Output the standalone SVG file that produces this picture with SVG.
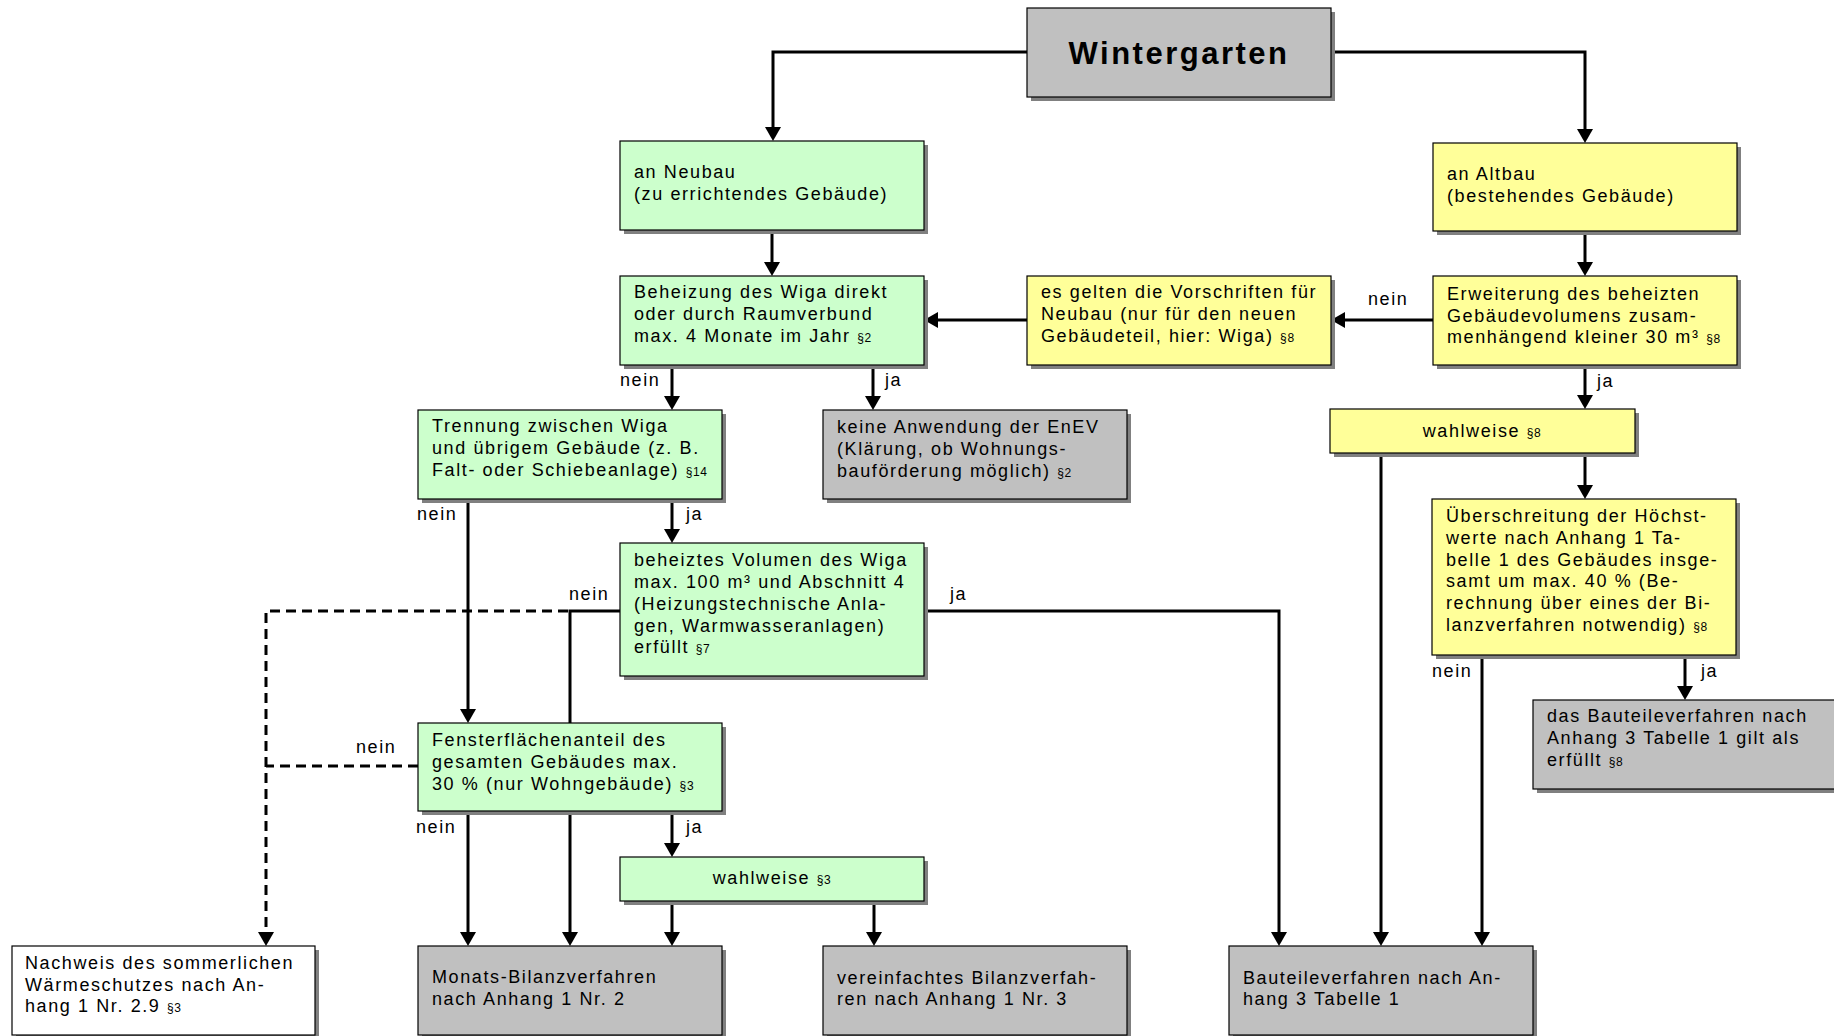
<svg xmlns="http://www.w3.org/2000/svg" width="1834" height="1036" viewBox="0 0 1834 1036">
<style>
  .sh { fill: #808080; }
  .b { stroke: #000; stroke-width: 1.2; }
  .g { fill: #CCFFCC; }
  .y { fill: #FFFF99; }
  .gr { fill: #C0C0C0; }
  .w { fill: #FFFFFF; }
  text { font-family: "Liberation Sans", Arial, sans-serif; font-size: 18px; letter-spacing: 1.6px; fill: #000; }
  .title { font-size: 31px; font-weight: bold; letter-spacing: 2.5px; }
  .p { font-size: 12px; letter-spacing: 0.6px; }
  .c { fill: none; stroke: #000; stroke-width: 3; }
  .d { stroke-dasharray: 10 6; }
</style>
<defs>
  <marker id="ah" markerUnits="userSpaceOnUse" markerWidth="14" markerHeight="16" viewBox="0 0 14 16" refX="4" refY="8" orient="auto">
    <path d="M0,0 L14,8 L0,16 z" fill="#000"/>
  </marker>
</defs>
<rect width="1834" height="1036" fill="#fff"/>

<g id="connectors">
  <path class="c" d="M1027,52 H773 V131" marker-end="url(#ah)"/>
  <path class="c" d="M1331,52 H1585 V133" marker-end="url(#ah)"/>
  <path class="c" d="M772,230 V266" marker-end="url(#ah)"/>
  <path class="c" d="M1585,231 V266" marker-end="url(#ah)"/>
  <path class="c" d="M1433,320 H1341" marker-end="url(#ah)"/>
  <path class="c" d="M1027,320 H934" marker-end="url(#ah)"/>
  <path class="c" d="M672,365 V400" marker-end="url(#ah)"/>
  <path class="c" d="M873,365 V400" marker-end="url(#ah)"/>
  <path class="c" d="M1585,365 V399" marker-end="url(#ah)"/>
  <path class="c" d="M672,499 V533" marker-end="url(#ah)"/>
  <path class="c" d="M468,499 V713" marker-end="url(#ah)"/>
  <path class="c" d="M620,611 H570 V936" marker-end="url(#ah)"/>
  <path class="c d" d="M568,611 H266 V936" marker-end="url(#ah)"/>
  <path class="c d" d="M418,766 H266"/>
  <path class="c" d="M924,611 H1279 V936" marker-end="url(#ah)"/>
  <path class="c" d="M1381,453 V936" marker-end="url(#ah)"/>
  <path class="c" d="M1585,453 V489" marker-end="url(#ah)"/>
  <path class="c" d="M1482,655 V936" marker-end="url(#ah)"/>
  <path class="c" d="M1685,655 V690" marker-end="url(#ah)"/>
  <path class="c" d="M468,811 V936" marker-end="url(#ah)"/>
  <path class="c" d="M672,811 V847" marker-end="url(#ah)"/>
  <path class="c" d="M672,901 V936" marker-end="url(#ah)"/>
  <path class="c" d="M874,901 V936" marker-end="url(#ah)"/>
  <text x="1368" y="305">nein</text>
  <text x="620" y="386">nein</text>
  <text x="885" y="386">ja</text>
  <text x="1597" y="387">ja</text>
  <text x="417" y="520">nein</text>
  <text x="686" y="520">ja</text>
  <text x="569" y="600">nein</text>
  <text x="950" y="600">ja</text>
  <text x="356" y="753">nein</text>
  <text x="1432" y="677">nein</text>
  <text x="1701" y="677">ja</text>
  <text x="416" y="833">nein</text>
  <text x="686" y="833">ja</text>
</g>

<g id="n-wintergarten">
  <rect class="sh" x="1031" y="12" width="304" height="89"/>
  <rect class="b gr" x="1027" y="8" width="304" height="89"/>
  <text class="title" x="1179" y="64" text-anchor="middle">Wintergarten</text>
</g>
<g id="n-neubau">
  <rect class="sh" x="624" y="145" width="304" height="89"/>
  <rect class="b g" x="620" y="141" width="304" height="89"/>
  <text x="634" y="178">an Neubau</text>
  <text x="634" y="199.5">(zu errichtendes Gebäude)</text>
</g>
<g id="n-altbau">
  <rect class="sh" x="1437" y="147" width="304" height="88"/>
  <rect class="b y" x="1433" y="143" width="304" height="88"/>
  <text x="1447" y="180">an Altbau</text>
  <text x="1447" y="201.5">(bestehendes Gebäude)</text>
</g>
<g id="n-beheizung">
  <rect class="sh" x="624" y="280" width="304" height="89"/>
  <rect class="b g" x="620" y="276" width="304" height="89"/>
  <text x="634" y="298">Beheizung des Wiga direkt</text>
  <text x="634" y="320">oder durch Raumverbund</text>
  <text x="634" y="342">max. 4 Monate im Jahr <tspan class="p">§2</tspan></text>
</g>
<g id="n-esgelten">
  <rect class="sh" x="1031" y="280" width="304" height="89"/>
  <rect class="b y" x="1027" y="276" width="304" height="89"/>
  <text x="1041" y="298">es gelten die Vorschriften für</text>
  <text x="1041" y="320">Neubau (nur für den neuen</text>
  <text x="1041" y="342">Gebäudeteil, hier: Wiga) <tspan class="p">§8</tspan></text>
</g>
<g id="n-erweiterung">
  <rect class="sh" x="1437" y="280" width="304" height="89"/>
  <rect class="b y" x="1433" y="276" width="304" height="89"/>
  <text x="1447" y="300">Erweiterung des beheizten</text>
  <text x="1447" y="321.5">Gebäudevolumens zusam-</text>
  <text x="1447" y="343">menhängend kleiner 30 m³ <tspan class="p">§8</tspan></text>
</g>
<g id="n-trennung">
  <rect class="sh" x="422" y="414" width="304" height="89"/>
  <rect class="b g" x="418" y="410" width="304" height="89"/>
  <text x="432" y="432">Trennung zwischen Wiga</text>
  <text x="432" y="454">und übrigem Gebäude (z. B.</text>
  <text x="432" y="476">Falt- oder Schiebeanlage) <tspan class="p">§14</tspan></text>
</g>
<g id="n-keine">
  <rect class="sh" x="827" y="414" width="304" height="89"/>
  <rect class="b gr" x="823" y="410" width="304" height="89"/>
  <text x="837" y="433">keine Anwendung der EnEV</text>
  <text x="837" y="455">(Klärung, ob Wohnungs-</text>
  <text x="837" y="477">bauförderung möglich) <tspan class="p">§2</tspan></text>
</g>
<g id="n-wahlweise8">
  <rect class="sh" x="1334" y="413" width="305" height="44"/>
  <rect class="b y" x="1330" y="409" width="305" height="44"/>
  <text x="1482" y="437" text-anchor="middle">wahlweise <tspan class="p">§8</tspan></text>
</g>
<g id="n-volumen">
  <rect class="sh" x="624" y="547" width="304" height="133"/>
  <rect class="b g" x="620" y="543" width="304" height="133"/>
  <text x="634" y="566">beheiztes Volumen des Wiga</text>
  <text x="634" y="588">max. 100 m³ und Abschnitt 4</text>
  <text x="634" y="610">(Heizungstechnische Anla-</text>
  <text x="634" y="632">gen, Warmwasseranlagen)</text>
  <text x="634" y="653">erfüllt <tspan class="p">§7</tspan></text>
</g>
<g id="n-ueberschreitung">
  <rect class="sh" x="1436" y="503" width="304" height="156"/>
  <rect class="b y" x="1432" y="499" width="304" height="156"/>
  <text x="1446" y="522">Überschreitung der Höchst-</text>
  <text x="1446" y="543.5">werte nach Anhang 1 Ta-</text>
  <text x="1446" y="565.5">belle 1 des Gebäudes insge-</text>
  <text x="1446" y="587">samt um max. 40 % (Be-</text>
  <text x="1446" y="609">rechnung über eines der Bi-</text>
  <text x="1446" y="630.5">lanzverfahren notwendig) <tspan class="p">§8</tspan></text>
</g>
<g id="n-bauteil-erfuellt">
  <rect class="sh" x="1537" y="704" width="304" height="89"/>
  <rect class="b gr" x="1533" y="700" width="304" height="89"/>
  <text x="1547" y="722">das Bauteileverfahren nach</text>
  <text x="1547" y="744">Anhang 3 Tabelle 1 gilt als</text>
  <text x="1547" y="766">erfüllt <tspan class="p">§8</tspan></text>
</g>
<g id="n-fenster">
  <rect class="sh" x="422" y="727" width="304" height="88"/>
  <rect class="b g" x="418" y="723" width="304" height="88"/>
  <text x="432" y="746">Fensterflächenanteil des</text>
  <text x="432" y="768">gesamten Gebäudes max.</text>
  <text x="432" y="790">30 % (nur Wohngebäude) <tspan class="p">§3</tspan></text>
</g>
<g id="n-wahlweise3">
  <rect class="sh" x="624" y="861" width="304" height="44"/>
  <rect class="b g" x="620" y="857" width="304" height="44"/>
  <text x="772" y="884" text-anchor="middle">wahlweise <tspan class="p">§3</tspan></text>
</g>
<g id="n-nachweis">
  <rect class="sh" x="16" y="950" width="303" height="89"/>
  <rect class="b w" x="12" y="946" width="303" height="89"/>
  <text x="25" y="969">Nachweis des sommerlichen</text>
  <text x="25" y="991">Wärmeschutzes nach An-</text>
  <text x="25" y="1012">hang 1 Nr. 2.9 <tspan class="p">§3</tspan></text>
</g>
<g id="n-monats">
  <rect class="sh" x="422" y="950" width="304" height="89"/>
  <rect class="b gr" x="418" y="946" width="304" height="89"/>
  <text x="432" y="983">Monats-Bilanzverfahren</text>
  <text x="432" y="1005">nach Anhang 1 Nr. 2</text>
</g>
<g id="n-vereinfacht">
  <rect class="sh" x="827" y="950" width="304" height="89"/>
  <rect class="b gr" x="823" y="946" width="304" height="89"/>
  <text x="837" y="984">vereinfachtes Bilanzverfah-</text>
  <text x="837" y="1005">ren nach Anhang 1 Nr. 3</text>
</g>
<g id="n-bauteil">
  <rect class="sh" x="1233" y="950" width="304" height="89"/>
  <rect class="b gr" x="1229" y="946" width="304" height="89"/>
  <text x="1243" y="984">Bauteileverfahren nach An-</text>
  <text x="1243" y="1005">hang 3 Tabelle 1</text>
</g>
</svg>
